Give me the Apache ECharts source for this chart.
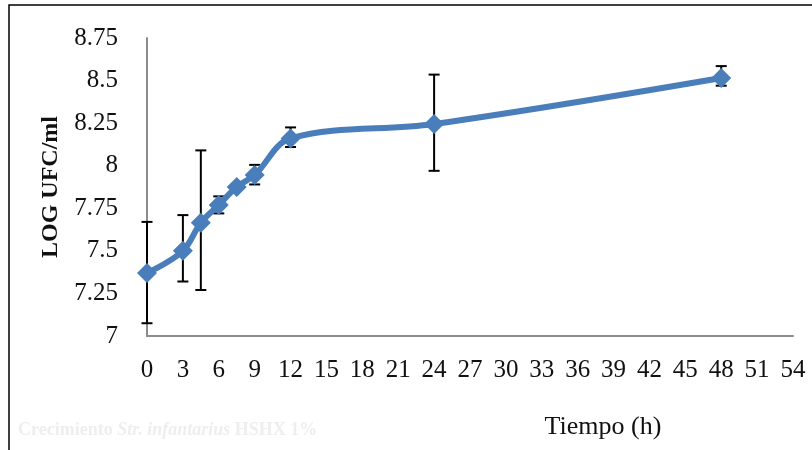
<!DOCTYPE html>
<html><head><meta charset="utf-8">
<script src="https://cdn.jsdelivr.net/npm/echarts@6/dist/echarts.min.js"></script>
<style>html,body{margin:0;padding:0;background:#fff}#c{width:812px;height:450px}</style>
</head><body><div id="c"></div>
<script>
const hours = [0, 3, 4.5, 6, 7.5, 9, 12, 24, 48];
const logUFC = [7.37, 7.50, 7.665, 7.77, 7.875, 7.945, 8.16, 8.245, 8.515];
const errLow = [7.075, 7.32, 7.27, 7.72, 7.86, 7.89, 8.11, 7.97, 8.47];
const errHigh = [7.67, 7.71, 8.09, 7.82, 7.89, 8.005, 8.225, 8.535, 8.585];
const xTitle = 'Tiempo (h)';
const yTitle = 'LOG UFC/ml';

const chart = echarts.init(document.getElementById('c'), null, {renderer:'canvas'});
const font = '"Liberation Serif", serif';
chart.setOption({
  animation:false,
  backgroundColor:'#fff',
  grid:{left:147,right:19,top:38,bottom:114},
  xAxis:{type:'value',min:0,max:54,interval:3,
    axisLine:{lineStyle:{color:'#8c8c8c',width:2}},axisTick:{show:false},splitLine:{show:false},
    axisLabel:{color:'#111',fontFamily:font,fontSize:25,margin:22},
    name:xTitle,nameLocation:'middle',nameGap:78,
    nameTextStyle:{color:'#111',fontFamily:font,fontSize:26,padding:[0,0,0,266]}},
  yAxis:{type:'value',min:7,max:8.75,interval:0.25,
    axisLine:{show:true,lineStyle:{color:'#8c8c8c',width:2}},axisTick:{show:false},splitLine:{show:false},
    axisLabel:{color:'#111',fontFamily:font,fontSize:25,margin:29},
    name:yTitle,nameLocation:'middle',nameGap:84,
    nameTextStyle:{color:'#111',fontFamily:font,fontSize:24,fontWeight:'bold'}},
  graphic:[
    {type:'rect',shape:{x:9,y:5,width:820,height:460},style:{fill:'none',stroke:'#000',lineWidth:1.5},z:100},
    {type:'text',left:18,top:421,style:{
      text:'{n|Crecimiento }{i|Str. infantarius}{n| HSHX 1%}',
      rich:{n:{fontFamily:font,fontSize:18,fontWeight:'bold',fill:'#eeeeee'},
            i:{fontFamily:font,fontSize:18,fontWeight:'bold',fontStyle:'italic',fill:'#eeeeee'}}}}
  ],
  series:[
    {type:'custom',z:1,
     data:hours.map((h,i)=>[h,errLow[i],errHigh[i]]),
     renderItem:function(params,api){
       const lo=api.coord([api.value(0),api.value(1)]);
       const hi=api.coord([api.value(0),api.value(2)]);
       const w=5.5;
       const st={stroke:'#000',lineWidth:2};
       return {type:'group',children:[
         {type:'line',shape:{x1:lo[0],y1:lo[1],x2:hi[0],y2:hi[1]},style:st},
         {type:'line',shape:{x1:lo[0]-w,y1:lo[1],x2:lo[0]+w,y2:lo[1]},style:st},
         {type:'line',shape:{x1:hi[0]-w,y1:hi[1],x2:hi[0]+w,y2:hi[1]},style:st}
       ]};
     }},
    {type:'line',z:5,smooth:0.35,data:hours.map((h,i)=>[h,logUFC[i]]),
     symbol:'diamond',symbolSize:20,
     lineStyle:{color:'#4a7ebb',width:6},
     itemStyle:{color:'#4a7ebb'}}
  ]
});
</script></body></html>
